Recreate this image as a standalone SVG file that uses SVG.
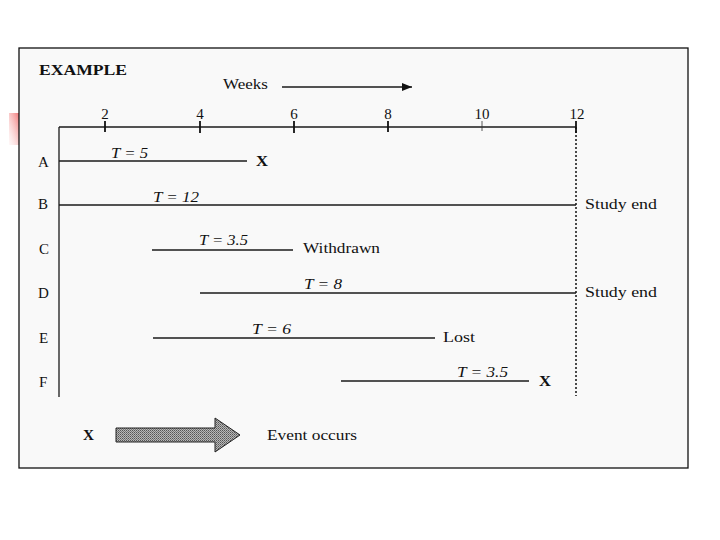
<svg xmlns="http://www.w3.org/2000/svg" width="720" height="540" viewBox="0 0 720 540">
  <defs>
    <linearGradient id="pink" x1="1" y1="0" x2="0" y2="1">
      <stop offset="0" stop-color="#f07070"/>
      <stop offset="1" stop-color="#fde8e8" stop-opacity="0.3"/>
    </linearGradient>
    <pattern id="hatch" width="2" height="2" patternUnits="userSpaceOnUse">
      <rect width="2" height="2" fill="#b8b8b8"/>
      <rect width="1" height="1" fill="#555"/>
      <rect x="1" y="1" width="1" height="1" fill="#777"/>
    </pattern>
    <marker id="ah" markerWidth="10" markerHeight="8" refX="10" refY="4" orient="auto" markerUnits="userSpaceOnUse">
      <path d="M0,0 L10,4 L0,8 Z" fill="#111"/>
    </marker>
    <style>
      .t { font-family: "Liberation Serif", "Times New Roman", serif; fill: #111; }
      .lbl { font-size: 15px; }
      .it { font-size: 14px; font-style: italic; }
      .b { font-weight: bold; }
      .ln { stroke: #1a1a1a; stroke-width: 1.3; fill: none; }
      .tick { stroke: #111; stroke-width: 1.8; }
    </style>
  </defs>

  <rect width="720" height="540" fill="#ffffff"/>
  <rect x="9" y="113" width="11" height="32" fill="url(#pink)"/>
  <rect x="19" y="48" width="669" height="420" fill="#f9f9f9" stroke="#111" stroke-width="1.3"/>

  <g id="header">
    <text class="t b" x="39" y="75" font-size="14.5" textLength="88" lengthAdjust="spacingAndGlyphs">EXAMPLE</text>
    <text class="t lbl" x="223" y="89" textLength="45" lengthAdjust="spacingAndGlyphs">Weeks</text>
  </g>

  <g id="axis">
    <line class="ln" x1="59" y1="127" x2="576" y2="127"/>
    <line class="ln" x1="59" y1="127" x2="59" y2="397"/>
    <line x1="576" y1="127" x2="576" y2="396" stroke="#111" stroke-width="1.5" stroke-dasharray="2,2"/>
    <line class="tick" x1="105" y1="121" x2="105" y2="132"/>
    <line class="tick" x1="200" y1="121" x2="200" y2="133"/>
    <line class="tick" x1="294" y1="121" x2="294" y2="133"/>
    <line class="tick" x1="388" y1="121" x2="388" y2="132"/>
    <line x1="482" y1="121" x2="482" y2="131" stroke="#333" stroke-width="0.8"/>
    <line class="tick" x1="576" y1="121" x2="576" y2="133"/>
    <text class="t lbl" x="105" y="119" text-anchor="middle">2</text>
    <text class="t lbl" x="200" y="119" text-anchor="middle">4</text>
    <text class="t lbl" x="294" y="119" text-anchor="middle">6</text>
    <text class="t lbl" x="388" y="119" text-anchor="middle">8</text>
    <text class="t lbl" x="482" y="119" text-anchor="middle">10</text>
    <text class="t lbl" x="577" y="119" text-anchor="middle">12</text>
  </g>

  <g id="connectors">
    <line class="ln" x1="282" y1="87" x2="412" y2="87" marker-end="url(#ah)"/>
    <line class="ln" x1="59" y1="161" x2="247" y2="161"/>
    <line class="ln" x1="59" y1="205" x2="576" y2="205"/>
    <line class="ln" x1="152" y1="250" x2="293" y2="250"/>
    <line class="ln" x1="200" y1="293" x2="576" y2="293"/>
    <line class="ln" x1="153" y1="338" x2="435" y2="338"/>
    <line class="ln" x1="341" y1="381" x2="529" y2="381"/>
  </g>

  <g id="row-A">
    <text class="t lbl" x="38" y="167">A</text>
    <text class="t it" x="111" y="158" textLength="37" lengthAdjust="spacingAndGlyphs">T = 5</text>
    <text class="t lbl b" x="256" y="166" textLength="12" lengthAdjust="spacingAndGlyphs">X</text>
  </g>
  <g id="row-B">
    <text class="t lbl" x="38" y="209">B</text>
    <text class="t it" x="153" y="202" textLength="46" lengthAdjust="spacingAndGlyphs">T = 12</text>
    <text class="t lbl" x="585" y="209" textLength="72" lengthAdjust="spacingAndGlyphs">Study end</text>
  </g>
  <g id="row-C">
    <text class="t lbl" x="39" y="254">C</text>
    <text class="t it" x="199" y="245" textLength="49" lengthAdjust="spacingAndGlyphs">T = 3.5</text>
    <text class="t lbl" x="303" y="253" textLength="77" lengthAdjust="spacingAndGlyphs">Withdrawn</text>
  </g>
  <g id="row-D">
    <text class="t lbl" x="38" y="298">D</text>
    <text class="t it" x="304" y="289" textLength="38" lengthAdjust="spacingAndGlyphs">T = 8</text>
    <text class="t lbl" x="585" y="297" textLength="72" lengthAdjust="spacingAndGlyphs">Study end</text>
  </g>
  <g id="row-E">
    <text class="t lbl" x="39" y="343">E</text>
    <text class="t it" x="252" y="334" textLength="39" lengthAdjust="spacingAndGlyphs">T = 6</text>
    <text class="t lbl" x="443" y="342" textLength="32" lengthAdjust="spacingAndGlyphs">Lost</text>
  </g>
  <g id="row-F">
    <text class="t lbl" x="39" y="387">F</text>
    <text class="t it" x="457" y="377" textLength="51" lengthAdjust="spacingAndGlyphs">T = 3.5</text>
    <text class="t lbl b" x="539" y="386" textLength="12" lengthAdjust="spacingAndGlyphs">X</text>
  </g>

  <g id="legend">
    <text class="t lbl b" x="83" y="440" textLength="11" lengthAdjust="spacingAndGlyphs">X</text>
    <path d="M116,428 L215,428 L215,418 L240,435 L215,452 L215,442 L116,442 Z" fill="url(#hatch)" stroke="#222" stroke-width="1"/>
    <text class="t lbl" x="267" y="440" textLength="90" lengthAdjust="spacingAndGlyphs">Event occurs</text>
  </g>
</svg>
